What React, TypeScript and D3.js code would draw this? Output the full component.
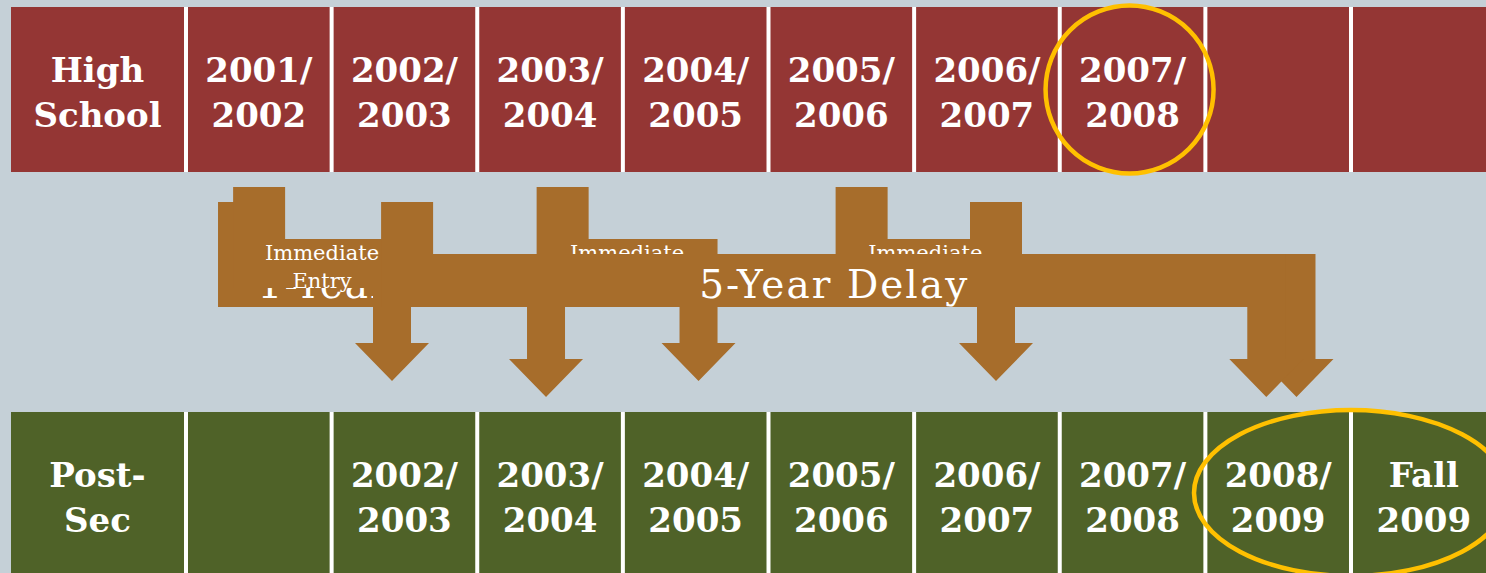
import React from "react";
import * as d3 from "d3";

const W = 1486;
const H = 573;

// ---- data ----
const rowHeadings: string[][] = [["High", "School"], ["Post-", "Sec"]];
const highSchoolYears: string[][] = [
  ["2001/", "2002"], ["2002/", "2003"], ["2003/", "2004"], ["2004/", "2005"],
  ["2005/", "2006"], ["2006/", "2007"], ["2007/", "2008"], [], [],
];
const postSecYears: string[][] = [
  [], ["2002/", "2003"], ["2003/", "2004"], ["2004/", "2005"], ["2005/", "2006"],
  ["2006/", "2007"], ["2007/", "2008"], ["2008/", "2009"], ["Fall", "2009"],
];
// arrows, in drawing order (positions in column units on the arrow track).
// Only the parts of each label that stay visible (not covered by later arrows) are listed.
const arrowLabels: string[][] = [
  ["1-Year Delay"], ["Immediate", "Entry"], ["Immediate"],
  [], ["Immediate"], ["5-Year Delay"],
];
const arrowKinds = ["delay", "immediate", "immediate", "delay", "immediate", "delay"];
const arrowFrom = [1.02, 1.12, 3.13, 6.0, 5.11, 2.1];
const arrowTo = [3.02, 2.0, 4.03, 7.99, 6.0, 7.79];
const highlightHS = [7]; // column circled in high school row
const highlightPS = [8, 9]; // columns circled in post-sec row

// ---- styles ----
const BG = "#C5D0D7";
const RED = "#943634";
const GREEN = "#4F6228";
const BROWN = "#A76D2B";
const GOLD = "#FFC000";
const BOLD_FONT = "'DejaVu Serif', Georgia, serif";

const rows = [
  { top: 7, fill: RED, labels: highSchoolYears },
  { top: 412, fill: GREEN, labels: postSecYears },
];
const ROW_H = 165;

const geom: Record<string, any> = {
  delay: { stubTop: 202, bandTop: 254, bandBottom: 307, shaftBottom: 359, tip: 397 },
  immediate: { stubTop: 187, bandTop: 239, bandBottom: 288, shaftBottom: 343, tip: 381 },
};
const STUB_W = 52;
const SHAFT_W = 38;
const HEAD_W = 74;

export default function App() {
  const colScale = d3
    .scaleBand<number>()
    .domain(d3.range(1, 10))
    .range([186, 186 + 9 * 145.625])
    .padding(0);
  const step = colScale.step();
  const trackScale = d3.scaleLinear().domain([1, 8]).range([241, 1298]);

  const arrowPath = (i: number) => {
    const g = geom[arrowKinds[i]];
    const sx = trackScale(arrowFrom[i]);
    const tx = trackScale(arrowTo[i]);
    const p = d3.path();
    p.moveTo(sx - STUB_W / 2, g.stubTop);
    p.lineTo(sx + STUB_W / 2, g.stubTop);
    p.lineTo(sx + STUB_W / 2, g.bandTop);
    p.lineTo(tx + SHAFT_W / 2, g.bandTop);
    p.lineTo(tx + SHAFT_W / 2, g.shaftBottom);
    p.lineTo(tx + HEAD_W / 2, g.shaftBottom);
    p.lineTo(tx, g.tip);
    p.lineTo(tx - HEAD_W / 2, g.shaftBottom);
    p.lineTo(tx - SHAFT_W / 2, g.shaftBottom);
    p.lineTo(tx - SHAFT_W / 2, g.bandBottom);
    p.lineTo(sx - STUB_W / 2, g.bandBottom);
    p.closePath();
    return { d: p.toString(), cx: (sx - STUB_W / 2 + tx + SHAFT_W / 2) / 2, g };
  };

  const cellText = (lines: string[], cx: number, top: number, key: string) => (
    <text
      key={key}
      textAnchor="middle"
      fill="#fff"
      fontFamily={BOLD_FONT}
      fontWeight="bold"
      fontSize={34}
    >
      {lines.map((l, j) => (
        <tspan key={j} x={cx} y={top + 75 + j * 44.5}>
          {l}
        </tspan>
      ))}
    </text>
  );

  return (
    <svg
      width={W}
      height={H}
      style={{ position: "absolute", left: 0, top: 0, display: "block" }}
    >
      <rect x={0} y={0} width={W} height={H} fill={BG} />
      {rows.map((r, ri) => (
        <g key={ri}>
          <rect x={184} y={r.top} width={W - 184} height={ROW_H} fill="#fff" />
          <rect x={11} y={r.top} width={173} height={ROW_H} fill={r.fill} />
          {cellText(rowHeadings[ri], 97.5, r.top, "h" + ri)}
          {r.labels.map((lab, ci) => {
            const x0 = (colScale(ci + 1) as number) + 2;
            return (
              <g key={ci}>
                <rect x={x0} y={r.top} width={step - 4} height={ROW_H} fill={r.fill} />
                {lab.length > 0 && cellText(lab, x0 + (step - 4) / 2, r.top, "c" + ci)}
              </g>
            );
          })}
        </g>
      ))}

      {arrowLabels.map((lab, i) => {
        const a = arrowPath(i);
        const isDelay = arrowKinds[i] === "delay";
        return (
          <g key={"a" + i}>
            <path d={a.d} fill={BROWN} />
            {lab.length > 0 &&
              (isDelay ? (
                <text
                  x={a.cx}
                  y={a.g.bandTop + 44}
                  textAnchor="middle"
                  fill="#fff"
                  fontFamily="'DejaVu Serif', serif"
                  fontSize={39}
                  textLength={268}
                  lengthAdjust="spacing"
                >
                  {lab[0]}
                </text>
              ) : (
                <text
                  textAnchor="middle"
                  fill="#fff"
                  fontFamily="'DejaVu Serif', serif"
                  fontSize={21}
                >
                  {lab.map((l, j) => (
                    <tspan key={j} x={a.cx} y={a.g.bandTop + 21 + j * 28}>
                      {l}
                    </tspan>
                  ))}
                </text>
              ))}
          </g>
        );
      })}

      {highlightHS.map((c) => (
        <circle
          key={"hc" + c}
          cx={(colScale(c) as number) + step / 2 - 3}
          cy={rows[0].top + ROW_H / 2}
          r={84}
          fill="none"
          stroke={GOLD}
          strokeWidth={4.5}
        />
      ))}
      <ellipse
        cx={
          ((colScale(highlightPS[0]) as number) +
            (colScale(highlightPS[highlightPS.length - 1]) as number) +
            step) /
          2
        }
        cy={rows[1].top + 81}
        rx={157}
        ry={83}
        fill="none"
        stroke={GOLD}
        strokeWidth={4.5}
      />
    </svg>
  );
}
